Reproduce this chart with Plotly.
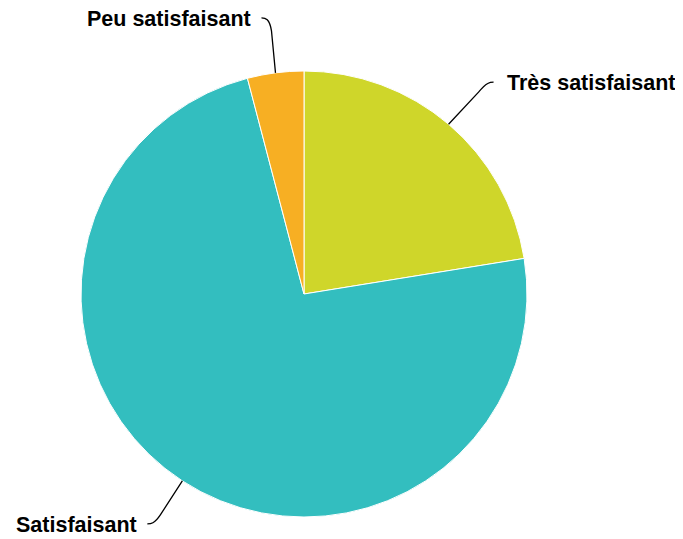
import math
import plotly.graph_objects as go

labels = ["Très satisfaisant", "Satisfaisant", "Peu satisfaisant"]
values = [11, 36, 2]
colors = ["#CFD62A", "#33BEBF", "#F7AF23"]

W, H = 683, 539
OFF = 8  # page body margin offset in the screenshot
cx, cy, R = 304, 294, 223  # pixel centre / radius of the pie (screen)

def px(x):
    return (x - OFF) / W

def py(y):
    return 1 - (y - OFF) / H

fig = go.Figure(go.Pie(
    labels=labels, values=values, sort=False, direction="clockwise", rotation=0,
    marker=dict(colors=colors, line=dict(color="white", width=1)),
    textinfo="none", hoverinfo="label+value", showlegend=False,
    domain=dict(x=[px(cx - R), px(cx + R)], y=[py(cy + R), py(cy - R)]),
))

total = sum(values)
offsets = {
    "Très satisfaisant": dict(ctrl=[(30, -32), (38, -42)], end=(45, -42), side="left"),
    "Peu satisfaisant": dict(ctrl=[(-4, -42), (-6, -54)], end=(-14, -55), side="right"),
    "Satisfaisant": dict(ctrl=[(-22, 34), (-28, 43)], end=(-35, 43), side="right"),
}

shapes = []
annotations = []
cum = 0
for lab, v in zip(labels, values):
    mid = (cum + v / 2) / total * 2 * math.pi
    cum += v
    ax = cx + R * math.sin(mid)
    ay = cy - R * math.cos(mid)
    o = offsets[lab]
    (c1x, c1y), (c2x, c2y) = o["ctrl"]
    ex, ey = ax + o["end"][0], ay + o["end"][1]
    path = "M {},{} L {},{} C {},{} {},{} {},{}".format(
        px(ax), py(ay),
        px(ax + c1x), py(ay + c1y),
        px(ax + c2x), py(ay + c2y),
        px(ax + c2x + (ex - ax - c2x) * 0.5), py(ey),
        px(ex), py(ey),
    )
    shapes.append(dict(type="path", xref="paper", yref="paper", path=path,
                       line=dict(color="black", width=1.3)))
    if o["side"] == "left":
        tx, anchor = ex + 11, "left"
    else:
        tx, anchor = ex - 8, "right"
    annotations.append(dict(
        x=px(tx), y=py(ey + 1), xref="paper", yref="paper",
        text="<b>" + lab + "</b>", showarrow=False,
        xanchor=anchor, yanchor="middle",
        font=dict(family="Liberation Sans, Arial, sans-serif", size=21.5, color="black"),
    ))

fig.update_layout(
    width=W, height=H, margin=dict(l=0, r=0, t=0, b=0),
    paper_bgcolor="white", plot_bgcolor="white",
    shapes=shapes, annotations=annotations,
)

fig.write_html("out.html")
